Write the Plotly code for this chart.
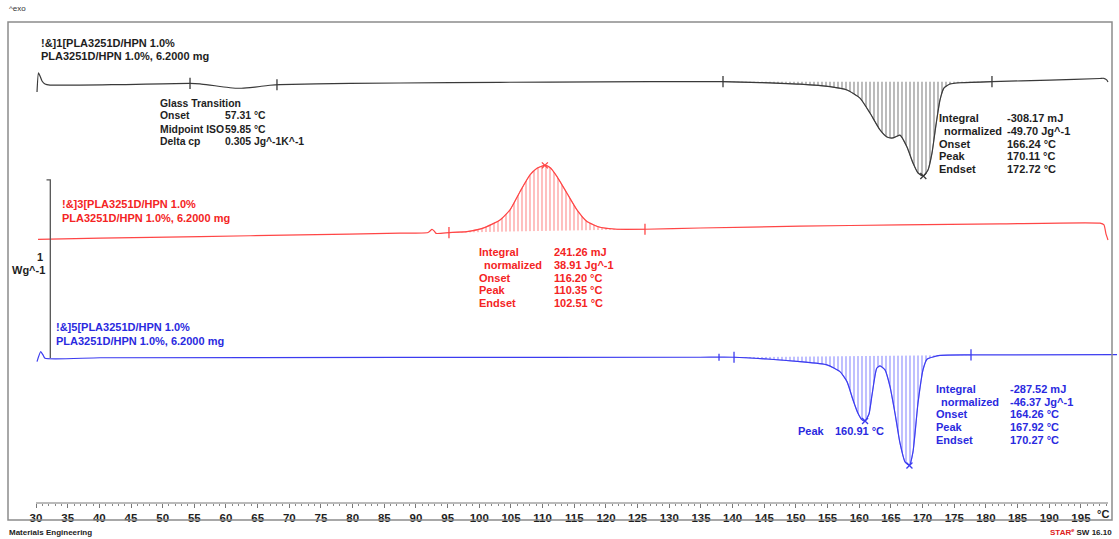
import numpy as np
import plotly.graph_objects as go

W, H = 1119, 539

# ---- DSC heat-flow curves (temperature in °C, heat flow in W/g, exo up) ----
temp_1 = [30.16, 30.39, 30.63, 30.95, 31.42, 32.21, 43.26, 54.32, 55.90, 57.47, 59.05,
          60.63, 62.21, 63.79, 65.37, 66.95, 68.53, 79.58, 95.37, 111.16, 126.95, 138.48,
          144.32, 147.48, 150.64, 155.38, 158.06, 160.11, 161.69, 163.27, 164.37, 165.32,
          166.43, 167.53, 168.48, 169.27, 170.11, 170.85, 171.48, 172.11, 172.74, 173.38,
          174.32, 175.90, 180.95, 190.11, 198.00, 198.60, 199.10, 199.27]
hf_1 = [-0.045, 0.062, 0.045, 0.017, 0.000, -0.006, -0.003, 0.004, 0.001, -0.006, -0.014,
        -0.021, -0.024, -0.020, -0.014, -0.007, -0.003, 0.003, 0.008, 0.011, 0.013, 0.013,
        0.008, 0.004, -0.001, -0.015, -0.034, -0.079, -0.163, -0.258, -0.298, -0.303,
        -0.287, -0.354, -0.444, -0.500, -0.517, -0.483, -0.388, -0.230, -0.090, -0.022,
        0.000, 0.007, 0.013, 0.022, 0.031, 0.032, 0.022, 0.011]

temp_3 = [30.32, 40.11, 55.90, 71.69, 87.48, 91.90, 92.53, 92.85, 93.16, 95.21, 98.06,
          100.58, 103.27, 104.85, 106.42, 108.00, 109.11, 110.35, 111.16, 112.27, 113.85,
          115.42, 117.00, 119.06, 121.74, 126.16, 134.85, 150.64, 166.43, 182.21, 198.01,
          198.64, 198.95, 199.27]
hf_3 = [0.003, 0.010, 0.019, 0.028, 0.038, 0.042, 0.059, 0.051, 0.037, 0.041, 0.047,
        0.066, 0.112, 0.169, 0.271, 0.365, 0.403, 0.419, 0.407, 0.356, 0.262,
        0.169, 0.103, 0.071, 0.060, 0.060, 0.067, 0.077, 0.085, 0.090, 0.094,
        0.084, 0.034, 0.000]

temp_5 = [30.16, 30.74, 31.10, 31.42, 40.11, 87.48, 134.85, 140.22, 145.43, 150.64, 154.90,
          156.95, 158.06, 159.01, 159.79, 160.43, 160.91, 161.53, 162.01, 162.75, 163.27,
          164.06, 164.85, 165.64, 166.43, 167.22, 167.92, 168.48, 169.27, 170.06, 170.69,
          172.74, 177.64, 200.70]
hf_5 = [-0.021, 0.035, 0.017, -0.002, 0.001, 0.003, 0.004, 0.004, -0.006, -0.021, -0.039,
        -0.077, -0.133, -0.236, -0.311, -0.348, -0.354, -0.315, -0.208, -0.058, -0.045,
        -0.067, -0.161, -0.311, -0.479, -0.584, -0.604, -0.528, -0.253, -0.067, -0.007,
        0.014, 0.017, 0.019]

# integration limits, peak temperatures and other evaluation marks
limits_1 = [138.48, 180.95]
limits_3 = [95.21, 126.16]
limits_5 = [140.22, 177.64]
tg_marks_1 = [54.32, 68.05]
extra_marks_5 = [137.85]
peaks_1 = [170.11]
peaks_3 = [110.35]
peaks_5 = [160.91, 167.92]

# evaluation tables
name_1 = ["!&]1[PLA3251D/HPN 1.0%", "PLA3251D/HPN 1.0%, 6.2000 mg"]
name_3 = ["!&]3[PLA3251D/HPN 1.0%", "PLA3251D/HPN 1.0%, 6.2000 mg"]
name_5 = ["!&]5[PLA3251D/HPN 1.0%", "PLA3251D/HPN 1.0%, 6.2000 mg"]
tg_labels = ["Glass Transition", "Onset", "Midpoint ISO", "Delta cp"]
tg_values = ["57.31 °C", "59.85 °C", "0.305 Jg^-1K^-1"]
int_labels = ["Integral", "normalized", "Onset", "Peak", "Endset"]
int_values_1 = ["-308.17 mJ", "-49.70 Jg^-1", "166.24 °C", "170.11 °C", "172.72 °C"]
int_values_3 = ["241.26 mJ", "38.91 Jg^-1", "116.20 °C", "110.35 °C", "102.51 °C"]
int_values_5 = ["-287.52 mJ", "-46.37 Jg^-1", "164.26 °C", "167.92 °C", "170.27 °C"]
tick_temps = list(range(30, 200, 5))
minor_temps = list(range(30, 200))

# ---- layout constants ----
PX_PER_C = 6.333          # horizontal scale
PX_PER_WG = 178.0         # 1 W/g in pixels
X0 = 30 - 36 / PX_PER_C   # temperature at the left edge
X1 = X0 + W / PX_PER_C
RULER_END = 30 + 1072 / PX_PER_C
Y1 = 84 / PX_PER_WG
Y0 = Y1 - H / PX_PER_WG
OFFSETS = [0.0, -0.876, -1.539]
RULER_Y = 1 - 503 / H

BLACK, RED, BLUE = "#3a3a3a", "#ff4646", "#3c3cf0"
RED_TXT, BLUE_TXT, BLACK_TXT = "#f42424", "#2a2ae0", "#1e1e1e"
FONT = "Liberation Sans, Arial, sans-serif"

fig = go.Figure()


def add_curve(t, hf, off, color, limits, hatch_color):
    t = np.asarray(t, float)
    y = np.asarray(hf, float) + off
    lo, hi = limits
    sel = (t >= lo - 1e-9) & (t <= hi + 1e-9)
    ts, ys = t[sel], y[sel]
    base = np.interp(ts, [lo, hi], np.interp([lo, hi], t, y))
    # hatched integration area between the peak and its baseline
    fig.add_trace(go.Scatter(x=ts.tolist(), y=base.tolist(), mode="lines",
                             line=dict(width=0, color=color),
                             hoverinfo="skip", showlegend=False))
    fig.add_trace(go.Scatter(x=ts.tolist(), y=ys.tolist(), mode="lines",
                             line=dict(color=color, width=0.5, shape="spline", smoothing=0.5),
                             fill="tonexty", fillcolor="rgba(255,255,255,0)",
                             fillpattern=dict(shape="|", fgcolor=hatch_color,
                                              bgcolor="rgba(255,255,255,0)",
                                              size=4, solidity=0.3),
                             hoverinfo="skip", showlegend=False))
    # full curve on top
    fig.add_trace(go.Scatter(x=t.tolist(), y=y.tolist(), mode="lines",
                             line=dict(color=color, width=1.2, shape="spline", smoothing=0.5),
                             hoverinfo="skip", showlegend=False))
    return t, y


def add_marks(t, y, temps, color, symbol, size):
    ym = np.interp(temps, t, y)
    fig.add_trace(go.Scatter(x=list(temps), y=ym.tolist(), mode="markers",
                             marker=dict(symbol=symbol, size=size, color=color,
                                         line=dict(color=color, width=1.3)),
                             hoverinfo="skip", showlegend=False))


t1, y1 = add_curve(temp_1, hf_1, OFFSETS[0], BLACK, limits_1, "#1c1c1c")
t3, y3 = add_curve(temp_3, hf_3, OFFSETS[1], RED, limits_3, "#ff2a2a")
t5, y5 = add_curve(temp_5, hf_5, OFFSETS[2], BLUE, limits_5, "#2a2aff")

add_marks(t1, y1, limits_1 + tg_marks_1, BLACK, "line-ns-open", 8)
add_marks(t3, y3, limits_3, RED, "line-ns-open", 8)
add_marks(t5, y5, limits_5, BLUE, "line-ns-open", 8)
add_marks(t5, y5, extra_marks_5, BLUE, "line-ns-open", 5)
add_marks(t1, y1, peaks_1, BLACK, "x-thin-open", 6)
add_marks(t3, y3, peaks_3, RED, "x-thin-open", 6)
add_marks(t5, y5, peaks_5, BLUE, "x-thin-open", 6)

# 1 W/g scale bar standing on the lowest baseline
bar_t = 32.26
fig.add_trace(go.Scatter(x=[bar_t - 0.6, bar_t, bar_t],
                         y=[OFFSETS[2] + 1, OFFSETS[2] + 1, OFFSETS[2]],
                         mode="lines", line=dict(color="#555555", width=1.3),
                         hoverinfo="skip", showlegend=False))

fig.update_layout(
    width=W, height=H, autosize=False,
    margin=dict(l=0, r=0, t=0, b=0, pad=0, autoexpand=False),
    paper_bgcolor="white", plot_bgcolor="white",
    xaxis=dict(range=[X0, X1], domain=[0, 1], automargin=False,
               anchor="free", position=RULER_Y, side="bottom",
               showline=False, showgrid=False, zeroline=False, fixedrange=True,
               ticks="outside", ticklen=4, tickcolor="#777777", tickwidth=1,
               tickvals=tick_temps, ticktext=[f"<b>{v}</b>" for v in tick_temps],
               tickfont=dict(family=FONT, size=11.5, color=BLACK_TXT),
               minor=dict(tickvals=minor_temps, ticks="outside", ticklen=2,
                          tickcolor="#888888", showgrid=False)),
    yaxis=dict(range=[Y0, Y1], domain=[0, 1], visible=False, fixedrange=True,
               automargin=False),
    showlegend=False,
)

# ruler line under the temperature ticks
fig.add_shape(type="line", xref="x", yref="paper", x0=30, x1=RULER_END,
              y0=RULER_Y, y1=RULER_Y, line=dict(color="#777777", width=1))

# frame
fig.add_shape(type="rect", xref="paper", yref="paper",
              x0=8 / W, x1=1112 / W, y0=1 - 520 / H, y1=1 - 22 / H,
              line=dict(color="#8c8c8c", width=1.5))


def text(x, y, s, color=BLACK_TXT, size=11, anchor="left"):
    fig.add_annotation(x=x / W, y=1 - y / H, xref="paper", yref="paper", text=s,
                       showarrow=False, xanchor=anchor, yanchor="middle", borderpad=0,
                       font=dict(family=FONT, size=size, color=color))


def block(x, y0, step, lines, color, indent=None, size=11):
    for i, s in enumerate(lines):
        xi = x
        if indent is not None and s == "normalized":
            xi = x + indent
        text(xi, y0 + i * step, f"<b>{s}</b>", color, size=size)


block(40, 43, 13, name_1, BLACK_TXT)
block(159, 103, 13, tg_labels, BLACK_TXT, size=10.4)
block(224, 116, 13, tg_values, BLACK_TXT, size=10.4)
block(938, 118, 12.8, int_labels, BLACK_TXT, indent=5)
block(1006, 118, 12.8, int_values_1, BLACK_TXT)

block(61, 204, 14, name_3, RED_TXT)
block(478, 252, 12.8, int_labels, RED_TXT, indent=5)
block(553, 252, 12.8, int_values_3, RED_TXT)

block(55, 327, 14, name_5, BLUE_TXT)
block(935, 389, 12.7, int_labels, BLUE_TXT, indent=5)
block(1009, 389, 12.7, int_values_5, BLUE_TXT)
text(797, 431, "<b>Peak</b>", BLUE_TXT)
text(834, 431, "<b>160.91 °C</b>", BLUE_TXT)

text(44, 257, "<b>1</b>", BLACK_TXT, anchor="right")
text(45.5, 270, "<b>Wg^-1</b>", BLACK_TXT, anchor="right")
text(1103, 514, "<b>°C</b>", BLACK_TXT, anchor="center")
text(8, 9, "^exo", "#333333", size=8)
text(8, 532, "<b>Materials Engineering</b>", "#222222", size=8)
text(1113, 532, "<b><span style='color:#e02020'>STAR<sup>e</sup></span> SW 16.10</b>",
     "#222222", size=8, anchor="right")

fig.write_html("out.html")
